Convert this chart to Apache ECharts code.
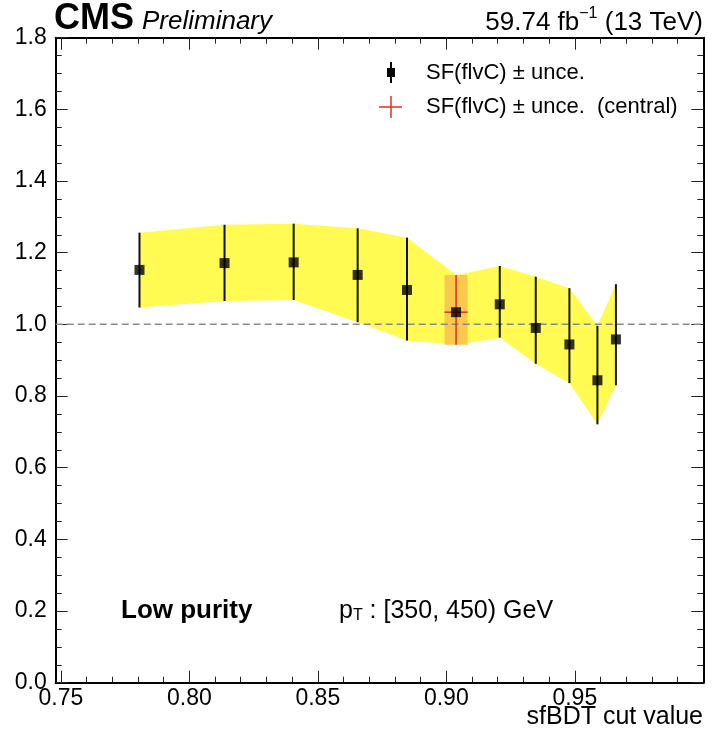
<!DOCTYPE html>
<html><head><meta charset="utf-8">
<script src="https://cdn.jsdelivr.net/npm/echarts@6/dist/echarts.min.js"></script>
<style>html,body{margin:0;padding:0;background:#fff}#c{width:717px;height:739px}</style>
</head><body><div id="c"></div>
<script>
// ---- data ----
const cutValues = [0.7806, 0.8137, 0.8406, 0.8655, 0.8847, 0.9038, 0.9208, 0.9348, 0.9479, 0.9588, 0.9660];
const sfValues  = [1.152, 1.171, 1.173, 1.138, 1.096, 1.034, 1.056, 0.990, 0.944, 0.844, 0.958];
const uncUp     = [1.256, 1.278, 1.281, 1.268, 1.242, 1.138, 1.163, 1.133, 1.101, 0.996, 1.112];
const uncDown   = [1.047, 1.065, 1.068, 1.006, 0.955, 0.943, 0.963, 0.890, 0.836, 0.721, 0.830];
const centralIndex = 5;
const centralHalfWidth = 0.0045;
const referenceLine = 1.0;
const xMin = 0.748, xMax = 1.0;
const xMajorTicks = [0.75, 0.80, 0.85, 0.90, 0.95];
const xMinorTicks = [0.76, 0.77, 0.78, 0.79, 0.81, 0.82, 0.83, 0.84, 0.86, 0.87, 0.88, 0.89, 0.91, 0.92, 0.93, 0.94, 0.96, 0.97, 0.98, 0.99];
const yMin = 0, yMax = 1.8, yStep = 0.2;

const FONT = '"Liberation Sans", Arial, Helvetica, sans-serif';
const chart = echarts.init(document.getElementById('c'), null, {renderer: 'canvas'});

function xAxisDef(pos, ticks, len, showLine, showLabel) {
  return {
    type: 'value', position: pos, min: xMin, max: xMax,
    axisLine: {show: showLine, onZero: false, lineStyle: {color: '#000', width: 2}},
    axisTick: {show: true, inside: true, length: len, customValues: ticks, lineStyle: {color: '#222', width: 1}},
    axisLabel: {show: showLabel, customValues: ticks, formatter: v => v.toFixed(2), fontSize: 23, fontFamily: FONT, color: '#000', margin: 4},
    splitLine: {show: false}
  };
}
function yAxisDef(pos, showLabel) {
  return {
    type: 'value', position: pos, min: yMin, max: yMax, interval: yStep,
    axisLine: {show: true, onZero: false, lineStyle: {color: '#000', width: 2}},
    axisTick: {show: true, inside: true, length: 12, lineStyle: {color: '#222', width: 1}},
    minorTick: {show: true, splitNumber: 4, length: 6, lineStyle: {color: '#222', width: 1}},
    axisLabel: {show: showLabel, formatter: v => v.toFixed(1), fontSize: 23, fontFamily: FONT, color: '#000', margin: 9},
    splitLine: {show: false}, minorSplitLine: {show: false}
  };
}

const option = {
  animation: false,
  backgroundColor: '#fff',
  grid: {left: 55.7, right: 13.7, top: 37.7, bottom: 56.3, containLabel: false},
  xAxis: [
    xAxisDef('bottom', xMajorTicks, 12, true, true),
    xAxisDef('bottom', xMinorTicks, 6, false, false),
    xAxisDef('top', xMajorTicks, 12, true, false),
    xAxisDef('top', xMinorTicks, 6, false, false)
  ],
  yAxis: [yAxisDef('left', true), yAxisDef('right', false)],
  series: [
    { // uncertainty band
      type: 'custom', xAxisIndex: 0, yAxisIndex: 0, z: 1, silent: true,
      data: [[cutValues[0], uncUp[0]]],
      renderItem: function (params, api) {
        const pts = [];
        for (let i = 0; i < cutValues.length; i++) pts.push(api.coord([cutValues[i], uncUp[i]]));
        for (let i = cutValues.length - 1; i >= 0; i--) pts.push(api.coord([cutValues[i], uncDown[i]]));
        return {type: 'polygon', shape: {points: pts}, style: {fill: '#fffb52', stroke: null}};
      }
    },
    { // central box
      type: 'custom', xAxisIndex: 0, yAxisIndex: 0, z: 2, silent: true,
      data: [[cutValues[centralIndex], uncDown[centralIndex], uncUp[centralIndex]]],
      renderItem: function (params, api) {
        const x = api.value(0);
        const p1 = api.coord([x - centralHalfWidth, api.value(2)]);
        const p2 = api.coord([x + centralHalfWidth, api.value(1)]);
        return {type: 'rect', shape: {x: p1[0], y: p1[1], width: p2[0] - p1[0], height: p2[1] - p1[1]}, style: {fill: '#f9c94e'}};
      }
    },
    { // reference line at 1
      type: 'line', xAxisIndex: 0, yAxisIndex: 0, z: 3, silent: true, showSymbol: false,
      data: [[xMin, referenceLine], [xMax, referenceLine]],
      lineStyle: {color: '#8a8a8a', width: 1.5, type: [7, 4]}
    },
    { // error bars
      type: 'custom', xAxisIndex: 0, yAxisIndex: 0, z: 4, silent: true,
      data: cutValues.map((x, i) => [x, uncDown[i], uncUp[i], i === centralIndex ? 1 : 0]),
      renderItem: function (params, api) {
        const x = api.value(0);
        const lo = api.coord([x, api.value(1)]);
        const hi = api.coord([x, api.value(2)]);
        const central = api.value(3) === 1;
        const children = [{type: 'line', shape: {x1: lo[0], y1: lo[1], x2: hi[0], y2: hi[1]},
          style: {stroke: central ? '#e0301e' : '#111', lineWidth: central ? 1.5 : 2}}];
        if (central) {
          const l = api.coord([x - centralHalfWidth, sfValues[centralIndex]]);
          const r = api.coord([x + centralHalfWidth, sfValues[centralIndex]]);
          children.push({type: 'line', shape: {x1: l[0], y1: l[1], x2: r[0], y2: r[1]}, style: {stroke: '#e0301e', lineWidth: 1.5}});
        }
        return {type: 'group', children: children};
      }
    },
    { // markers
      type: 'scatter', xAxisIndex: 0, yAxisIndex: 0, z: 5, silent: true,
      symbol: 'rect', symbolSize: 10,
      itemStyle: {color: '#000'},
      data: cutValues.map((x, i) => [x, sfValues[i]])
    }
  ],
  graphic: [
    {type: 'text', z: 10, style: {x: 54, y: 19, text: 'CMS', font: 'bold 36px ' + FONT, fill: '#000', textVerticalAlign: 'middle'}},
    {type: 'text', z: 10, style: {x: 142, y: 22, text: 'Preliminary', font: 'italic 26px ' + FONT, fill: '#000', textVerticalAlign: 'middle'}},
    {type: 'text', z: 10, style: {x: 703, y: 21, textAlign: 'right', textVerticalAlign: 'middle',
      text: '{a|59.74 fb}{s|−1}{a| (13 TeV)}', fill: '#000',
      rich: {a: {fontSize: 26, fontFamily: FONT, lineHeight: 30, verticalAlign: 'bottom'},
             s: {fontSize: 16, fontFamily: FONT, lineHeight: 30, verticalAlign: 'top'}}}},
    {type: 'text', z: 10, style: {x: 703, y: 717, textAlign: 'right', textVerticalAlign: 'middle', text: 'sfBDT cut value', font: '25px ' + FONT, fill: '#000'}},
    // legend
    {type: 'line', z: 10, shape: {x1: 391, y1: 62, x2: 391, y2: 83}, style: {stroke: '#000', lineWidth: 2}},
    {type: 'rect', z: 10, shape: {x: 387, y: 68, width: 8, height: 9}, style: {fill: '#000'}},
    {type: 'text', z: 10, style: {x: 426, y: 73, text: 'SF(flvC) ± unce.', font: '22px ' + FONT, fill: '#000', textVerticalAlign: 'middle'}},
    {type: 'line', z: 10, shape: {x1: 379, y1: 107, x2: 402, y2: 107}, style: {stroke: '#e0301e', lineWidth: 1.5}},
    {type: 'line', z: 10, shape: {x1: 391, y1: 96, x2: 391, y2: 118}, style: {stroke: '#e0301e', lineWidth: 1.5}},
    {type: 'text', z: 10, style: {x: 426, y: 107, text: 'SF(flvC) ± unce.  (central)', font: '22px ' + FONT, fill: '#000', textVerticalAlign: 'middle'}},
    // annotations
    {type: 'text', z: 10, style: {x: 121, y: 611, text: 'Low purity', font: 'bold 26px ' + FONT, fill: '#000', textVerticalAlign: 'middle'}},
    {type: 'text', z: 10, style: {x: 339, y: 611, textVerticalAlign: 'middle',
      text: '{p|p}{t|T}{a| : [350, 450) GeV}', fill: '#000',
      rich: {p: {fontSize: 25, fontFamily: FONT, lineHeight: 30, verticalAlign: 'middle'},
             t: {fontSize: 16, fontFamily: FONT, lineHeight: 30, verticalAlign: 'bottom', padding: [0, 0, 2, 0]},
             a: {fontSize: 25, fontFamily: FONT, lineHeight: 30, verticalAlign: 'middle'}}}}
  ]
};
chart.setOption(option);
</script>
</body></html>
